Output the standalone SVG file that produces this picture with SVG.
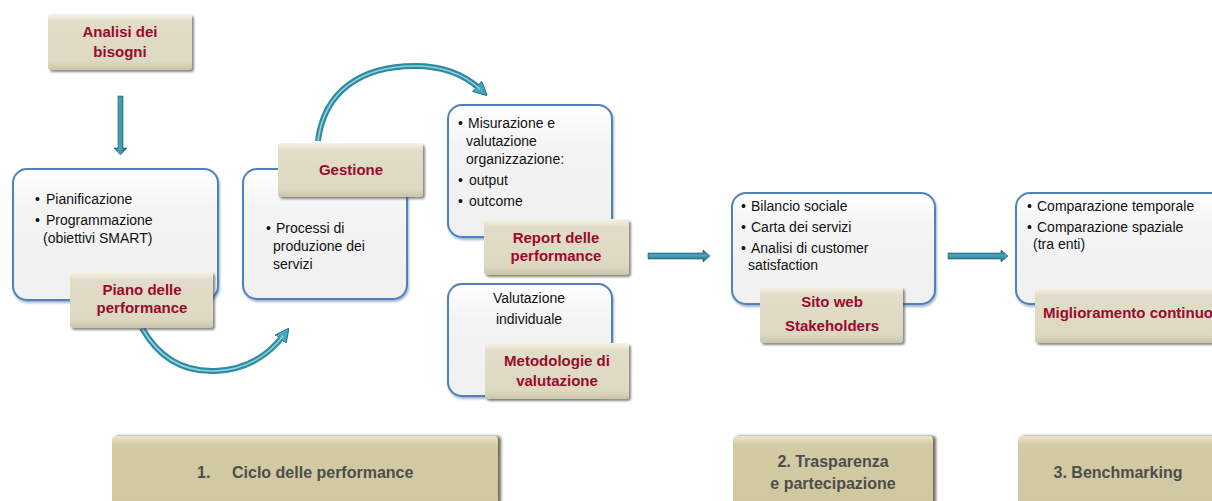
<svg xmlns="http://www.w3.org/2000/svg" width="1212" height="501" viewBox="0 0 1212 501">
<defs>
<linearGradient id="gBox" x1="0" y1="0" x2="0" y2="1">
<stop offset="0" stop-color="#ffffff"/><stop offset="0.3" stop-color="#f4f4f4"/><stop offset="1" stop-color="#f0f0f0"/>
</linearGradient>
<linearGradient id="gTan" x1="0" y1="0" x2="0" y2="1">
<stop offset="0" stop-color="#f6f3e6"/><stop offset="0.14" stop-color="#e2ddc8"/><stop offset="0.85" stop-color="#ddd8c1"/><stop offset="1" stop-color="#cbc5aa"/>
</linearGradient>
<linearGradient id="gBot" x1="0" y1="0" x2="0" y2="1">
<stop offset="0" stop-color="#ece6c8"/><stop offset="0.12" stop-color="#d3cba4"/><stop offset="1" stop-color="#cfc7a0"/>
</linearGradient>
<linearGradient id="gArrH" x1="0" y1="0" x2="0" y2="1">
<stop offset="0" stop-color="#205e70"/><stop offset="0.45" stop-color="#4aa6bd"/><stop offset="1" stop-color="#1f5b6c"/>
</linearGradient>
<linearGradient id="gArrV" x1="0" y1="0" x2="1" y2="0">
<stop offset="0" stop-color="#205e70"/><stop offset="0.45" stop-color="#4aa6bd"/><stop offset="1" stop-color="#1f5b6c"/>
</linearGradient>
<filter id="sh" x="-10%" y="-10%" width="125%" height="135%">
<feDropShadow dx="2" dy="2" stdDeviation="1.2" flood-color="#4a4a4a" flood-opacity="0.65"/>
</filter>
<filter id="shB" x="-5%" y="-10%" width="115%" height="130%">
<feDropShadow dx="1" dy="2" stdDeviation="1" flood-color="#3a6a9e" flood-opacity="0.5"/>
</filter>
<filter id="shBot" x="-5%" y="-10%" width="112%" height="130%">
<feDropShadow dx="3" dy="0" stdDeviation="1.5" flood-color="#4a4530" flood-opacity="0.8"/>
</filter>
<marker id="ah" markerUnits="userSpaceOnUse" markerWidth="14" markerHeight="14" viewBox="0 0 10 10" refX="3" refY="5" orient="auto">
<path d="M0,0 L10,5 L0,10 z" fill="#4aa6bd" stroke="#2a7588" stroke-width="0.8"/>
</marker>
<style>
.box{fill:url(#gBox);stroke:#4f81bd;stroke-width:2;filter:url(#shB)}
.tan{fill:url(#gTan);filter:url(#sh)}
.bot{fill:url(#gBot);filter:url(#shBot)}
.t{font-family:"Liberation Sans",Arial,sans-serif;font-size:14px;fill:#111}
.h{font-family:"Liberation Sans",Arial,sans-serif;font-size:15px;font-weight:bold;fill:#9b0a2e}
.b{font-family:"Liberation Sans",Arial,sans-serif;font-size:16px;font-weight:bold;fill:#4d4d4d}
.arc{fill:none;stroke:#2f8aa0;stroke-width:6}
.arcHi{fill:none;stroke:#8fd3e2;stroke-width:1.6}
</style>
</defs>
<rect width="1212" height="501" fill="#ffffff"/>

<g id="connectors">
<path d="M118,96 h5 v52 h4 l-6.5,7 l-6.5,-7 h4 z" fill="url(#gArrV)" stroke="#1f5b6c" stroke-width="0.6"/>
<path class="arc" d="M318,141 C324,92 360,66 415,66 C448,66 468,78 480,89" marker-end="url(#ah)"/>
<path class="arcHi" d="M318,141 C324,92 360,66 415,66 C448,66 468,78 480,89"/>
<path class="arc" d="M142,328 C160,360 185,372 215,371 C248,370 270,353 283,336" marker-end="url(#ah)"/>
<path class="arcHi" d="M142,328 C160,360 185,372 215,371 C248,370 270,353 283,336"/>
<path d="M648,253 h55 v-3 l7,6 l-7,6 v-3 h-55 z" fill="url(#gArrH)" stroke="#1f5b6c" stroke-width="0.6"/>
<path d="M948,253 h53 v-3 l7,6 l-7,6 v-3 h-53 z" fill="url(#gArrH)" stroke="#1f5b6c" stroke-width="0.6"/>
</g>

<g id="analisi">
<rect class="tan" x="48" y="14" width="144" height="56" rx="3"/>
<text class="h" text-anchor="middle"><tspan x="120" y="37">Analisi dei</tspan><tspan x="120" y="57">bisogni</tspan></text>
</g>

<g id="pianificazione">
<rect class="box" x="13" y="169" width="205" height="131" rx="14"/>
<text class="t"><tspan x="35" y="204">•</tspan><tspan x="46" y="204">Pianificazione</tspan><tspan x="35" y="225">•</tspan><tspan x="46" y="225">Programmazione</tspan><tspan x="43" y="243">(obiettivi SMART)</tspan></text>
</g>
<g id="piano">
<rect class="tan" x="70" y="272" width="143" height="56" rx="3"/>
<text class="h" text-anchor="middle"><tspan x="142" y="295">Piano delle</tspan><tspan x="142" y="313">performance</tspan></text>
</g>

<g id="processi">
<rect class="box" x="243" y="169" width="164" height="130" rx="14"/>
<text class="t"><tspan x="266" y="233">•</tspan><tspan x="276" y="233">Processi di</tspan><tspan x="273" y="251">produzione dei</tspan><tspan x="273" y="269">servizi</tspan></text>
</g>
<g id="gestione">
<rect class="tan" x="278" y="143" width="145" height="54" rx="3"/>
<text class="h" x="351" y="175" text-anchor="middle">Gestione</text>
</g>

<g id="misurazione">
<rect class="box" x="448" y="105" width="164" height="132" rx="14"/>
<text class="t"><tspan x="458" y="128">•</tspan><tspan x="468" y="128">Misurazione e</tspan><tspan x="466" y="146">valutazione</tspan><tspan x="466" y="164">organizzazione:</tspan><tspan x="458" y="185">•</tspan><tspan x="469" y="185">output</tspan><tspan x="458" y="206">•</tspan><tspan x="469" y="206">outcome</tspan></text>
</g>
<g id="report">
<rect class="tan" x="484" y="219" width="145" height="56" rx="3"/>
<text class="h" text-anchor="middle"><tspan x="556" y="243">Report delle</tspan><tspan x="556" y="261">performance</tspan></text>
</g>

<g id="valutazione">
<rect class="box" x="448" y="284" width="164" height="112" rx="14"/>
<text class="t" text-anchor="middle"><tspan x="529" y="303">Valutazione</tspan><tspan x="529" y="324">individuale</tspan></text>
</g>
<g id="metodologie">
<rect class="tan" x="485" y="343" width="144" height="56" rx="3"/>
<text class="h" text-anchor="middle"><tspan x="557" y="366">Metodologie di</tspan><tspan x="557" y="386">valutazione</tspan></text>
</g>

<g id="bilancio">
<rect class="box" x="732" y="193" width="203" height="111" rx="14"/>
<text class="t"><tspan x="741" y="211">•</tspan><tspan x="751" y="211">Bilancio sociale</tspan><tspan x="741" y="232">•</tspan><tspan x="751" y="232">Carta dei servizi</tspan><tspan x="741" y="253">•</tspan><tspan x="751" y="253">Analisi di customer</tspan><tspan x="748" y="270">satisfaction</tspan></text>
</g>
<g id="sito">
<rect class="tan" x="760" y="287" width="143" height="56" rx="3"/>
<text class="h" text-anchor="middle" font-size="14"><tspan x="832" y="307">Sito web</tspan><tspan x="832" y="331">Stakeholders</tspan></text>
</g>

<g id="comparazione">
<rect class="box" x="1016" y="193" width="230" height="111" rx="14"/>
<text class="t"><tspan x="1027" y="211">•</tspan><tspan x="1037" y="211">Comparazione temporale</tspan><tspan x="1027" y="232">•</tspan><tspan x="1037" y="232">Comparazione spaziale</tspan><tspan x="1033" y="249">(tra enti)</tspan></text>
</g>
<g id="miglioramento">
<rect class="tan" x="1035" y="288" width="200" height="55" rx="3"/>
<text class="h" x="1043" y="318" font-size="14.5">Miglioramento continuo</text>
</g>

<g id="ciclo">
<rect class="bot" x="112" y="436" width="386" height="75" rx="4"/>
<text class="b"><tspan x="197" y="478">1.</tspan><tspan x="232" y="478">Ciclo delle performance</tspan></text>
</g>
<g id="trasparenza">
<rect class="bot" x="733" y="436" width="200" height="75" rx="4"/>
<text class="b" text-anchor="middle"><tspan x="833" y="467">2. Trasparenza</tspan><tspan x="833" y="489">e partecipazione</tspan></text>
</g>
<g id="benchmarking">
<rect class="bot" x="1018" y="436" width="220" height="75" rx="4"/>
<text class="b" x="1118" y="478" text-anchor="middle">3. Benchmarking</text>
</g>
</svg>
